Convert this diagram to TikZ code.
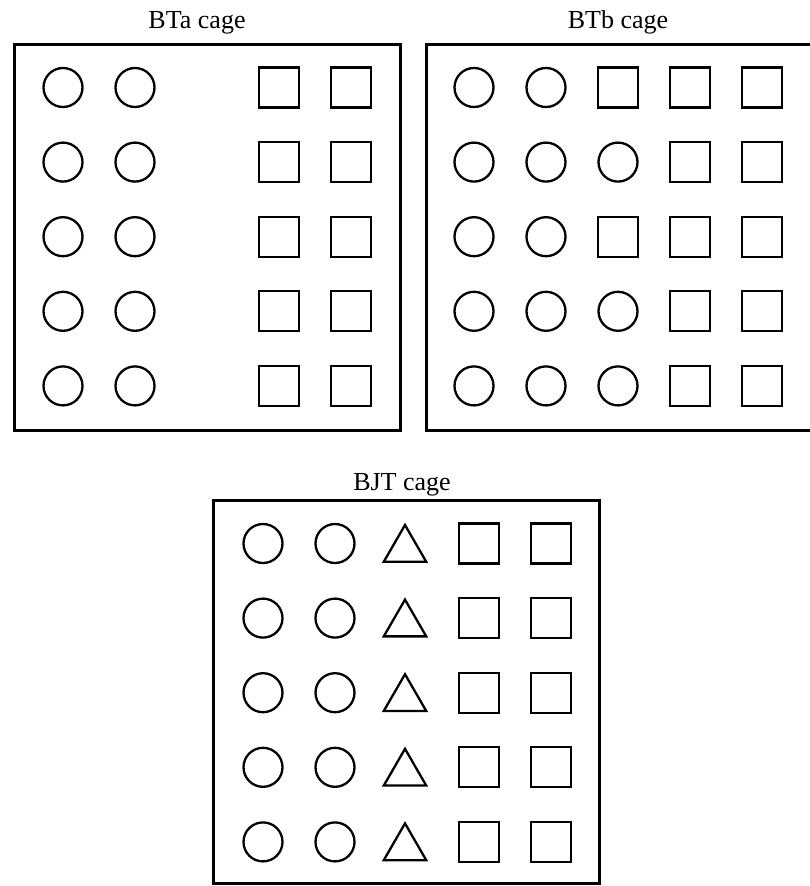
\documentclass[tikz,border=0pt]{standalone}
\usepackage{fontspec}
\setmainfont{Liberation Serif}
\usetikzlibrary{positioning,shapes.geometric}
\tikzset{
  cage/.style={draw, line width=2.8pt, minimum size=386pt, inner sep=0pt, anchor=north west},
  title/.style={font=\fontsize{26}{30}\selectfont, anchor=base, inner sep=0pt},
  ring/.style={draw, circle, line width=2.3pt, minimum size=39pt, inner sep=0pt},
  sq/.style={draw, rectangle, line width=2.3pt, minimum size=40pt, inner sep=0pt},
  tri/.style={draw, regular polygon, regular polygon sides=3, line width=2.3pt, minimum size=49pt, inner sep=0pt}
}

\begin{document}
\begin{tikzpicture}[x=1pt, y=-1pt]
        \useasboundingbox (0,0) rectangle (810,886);
        \clip (0,0) rectangle (810,886);
        \node[cage] (bta) at (13,43) {};
        \node[cage] (btb) at (425,43) {};
        \node[cage, minimum height=383pt] (bjt) at (212,499) {};
        \node[title] (btatitle) at (197,28) {BTa cage};
        \node[title] (btbtitle) at (618,28) {BTb cage};
        \node[title] (bjttitle) at (402,490) {BJT cage};
        \begin{scope}[shift={(13,43)}]
        \foreach \r in {0,...,4}
        {
            \foreach \c in {0,1}
                \node[ring] (bta-\r-\c) at (50+72*\c, 44.5+74.6*\r) {};
            \foreach \c in {3,4}
                \node[sq] (bta-\r-\c) at (50+72*\c, 44.5+74.6*\r) {};
        }
        \end{scope}
        \begin{scope}[shift={(425,43)}]
        \foreach \r/\k in {0/sq,1/ring,2/sq,3/ring,4/ring}
        {
            \foreach \c in {0,1}
                \node[ring] (btb-\r-\c) at (49+72*\c, 44.5+74.6*\r) {};
            \node[\k] (btb-\r-2) at (49+72*2, 44.5+74.6*\r) {};
            \foreach \c in {3,4}
                \node[sq] (btb-\r-\c) at (49+72*\c, 44.5+74.6*\r) {};
        }
        \end{scope}
        \begin{scope}[shift={(212,499)}]
        \foreach \r in {0,...,4}
        {
            \foreach \c in {0,1}
                \node[ring] (bjt-\r-\c) at (51+72*\c, 44.5+74.6*\r) {};
            \node[tri] (bjt-\r-2) at (193, 50.5+74.6*\r) {};
            \foreach \c in {3,4}
                \node[sq] (bjt-\r-\c) at (51+72*\c, 44.5+74.6*\r) {};
        }
        \end{scope}
\end{tikzpicture}
\end{document}
